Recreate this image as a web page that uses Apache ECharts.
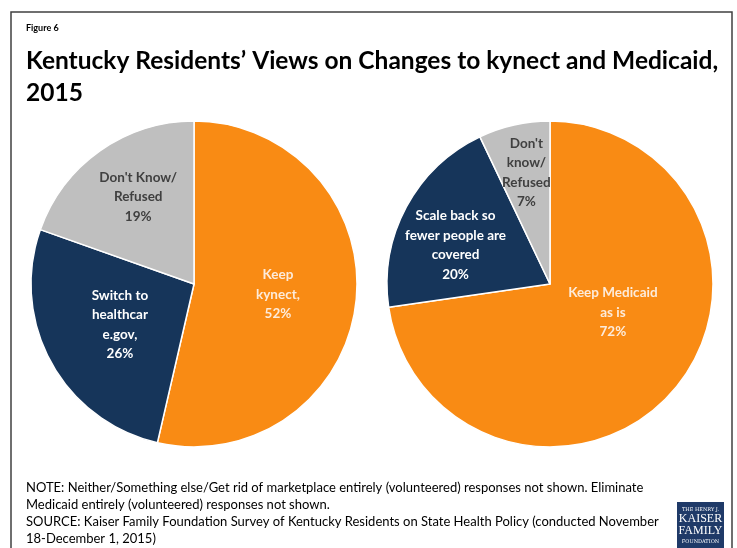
<!DOCTYPE html>
<html><head><meta charset="utf-8">
<script src="https://cdn.jsdelivr.net/npm/echarts@6/dist/echarts.min.js"></script>
<style>html,body{margin:0;padding:0;background:#fff}#c{width:737px;height:548px}</style>
</head><body><div id="c"></div>
<script>
// Data
var kynectCategories = ['Keep\nkynect,', 'Switch to\nhealthcar\ne.gov,', "Don't Know/\nRefused"];
var kynectValues = [52, 26, 19];
var medicaidCategories = ['Keep Medicaid\nas is', 'Scale back so\nfewer people are\ncovered', "Don't\nknow/\nRefused"];
var medicaidValues = [72, 20, 7];

var colors = ['#F98B14', '#16355A', '#BFBFBF'];
var labelColors = ['#FDEBDA', '#FFFFFF', '#404040'];
var kynectLabelNudge = [[0, 1], [0, 0], [-7, -18]];
var medicaidLabelNudge = [[-1, -27], [-20, 1], [-5, -29]];

function buildData(cats, vals, nudge) {
  return cats.map(function (c, i) {
    return {
      name: c, value: vals[i],
      itemStyle: { color: colors[i] },
      label: { color: labelColors[i], offset: nudge[i] }
    };
  });
}

var font = 'Lato, "Open Sans", sans-serif';
var chart = echarts.init(document.getElementById('c'), null, { renderer: 'canvas' });

function pieSeries(center, cats, vals, nudge) {
  return {
    type: 'pie',
    center: center,
    radius: [0, 163],
    startAngle: 90,
    clockwise: true,
    animation: false,
    silent: true,
    avoidLabelOverlap: false,
    itemStyle: { borderColor: '#ffffff', borderWidth: 1.5 },
    label: {
      show: true, position: 'inside',
      fontFamily: font, fontWeight: 'bold', fontSize: 13.5, lineHeight: 19.5,
      align: 'center', overflow: 'none',
      formatter: function (p) { return p.name + '\n' + p.value + '%'; }
    },
    labelLine: { show: false },
    labelLayout: { hideOverlap: false },
    data: buildData(cats, vals, nudge)
  };
}

chart.setOption({
  backgroundColor: '#ffffff',
  animation: false,
  series: [
    pieSeries([194, 284], kynectCategories, kynectValues, kynectLabelNudge),
    pieSeries([550, 284], medicaidCategories, medicaidValues, medicaidLabelNudge)
  ],
  graphic: [
    { type: 'rect', shape: { x: 11, y: 12, width: 721, height: 560 }, style: { fill: 'none', stroke: '#404040', lineWidth: 1.5 }, silent: true },
    { type: 'text', left: 26, top: 24, style: { text: 'Figure 6', font: 'bold 9px ' + font, fill: '#000' } },
    { type: 'text', left: 26, top: 45, style: { text: 'Kentucky Residents\u2019 Views on Changes to kynect and Medicaid,\n2015', font: 'bold 24.5px ' + font, fill: '#000', lineHeight: 32 } },
    { type: 'text', left: 26, top: 479, style: { text: 'NOTE: Neither/Something else/Get rid of marketplace entirely (volunteered) responses not shown. Eliminate\nMedicaid entirely (volunteered) responses not shown.\nSOURCE: Kaiser Family Foundation Survey of Kentucky Residents on State Health Policy (conducted November\n18-December 1, 2015)', font: '13px ' + font, fill: '#000', lineHeight: 17 } },
    { type: 'rect', shape: { x: 677, y: 502, width: 47, height: 50 }, style: { fill: '#1F3A68' } },
    { type: 'text', x: 700.5, y: 507, style: { text: 'THE HENRY J.', font: '5px "DejaVu Serif", serif', fill: '#fff', align: 'center' } },
    { type: 'text', x: 700.5, y: 513, style: { text: 'KAISER', font: '12px "Liberation Serif", serif', fill: '#fff', align: 'center' } },
    { type: 'text', x: 700.5, y: 525, style: { text: 'FAMILY', font: '12px "Liberation Serif", serif', fill: '#fff', align: 'center' } },
    { type: 'text', x: 700.5, y: 539, style: { text: 'FOUNDATION', font: '5px "DejaVu Serif", serif', fill: '#fff', align: 'center' } }
  ]
});
</script>
</body></html>
